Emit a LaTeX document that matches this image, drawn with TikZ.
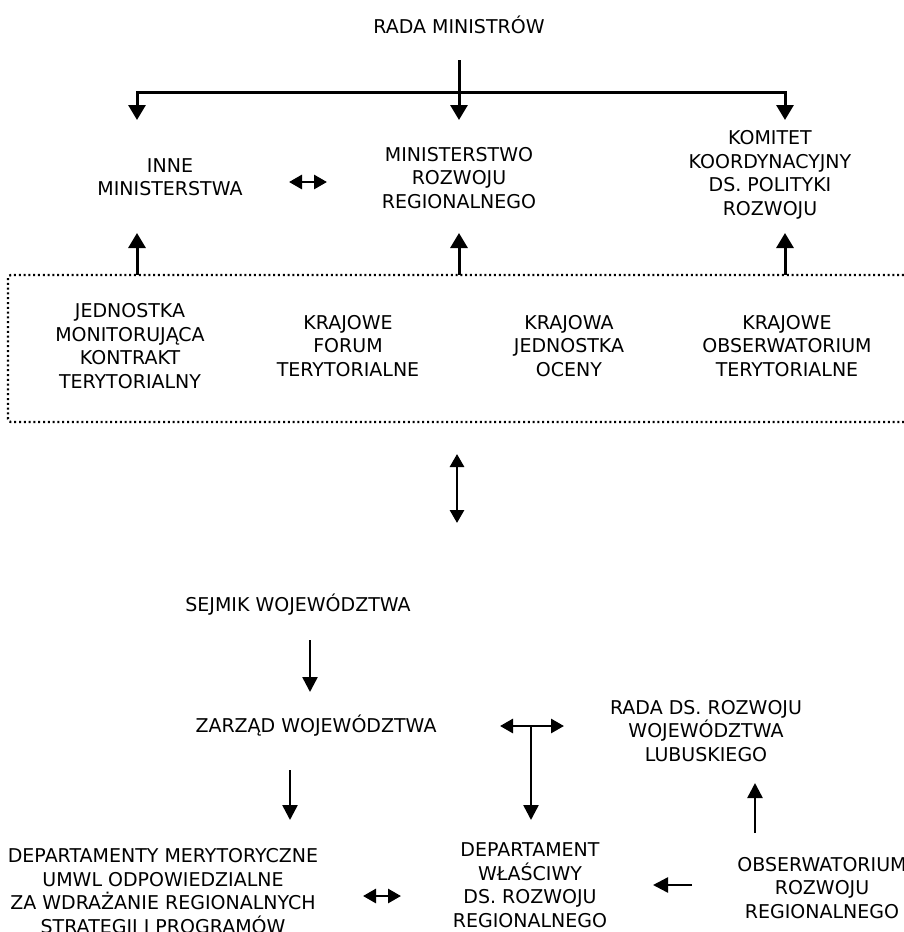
\documentclass[tikz,border=0pt]{standalone}
\usepackage{fontspec}
\setmainfont{DejaVu Sans}
\usetikzlibrary{arrows.meta}
\begin{document}
\begin{tikzpicture}[x=1pt,y=-1pt,
  lbl/.style={align=center,inner sep=0pt,font=\fontsize{19}{23.5}\selectfont},
  arr/.style={line width=3pt,-{Triangle[width=17pt,length=15pt]}},
  sarr/.style={line width=2.5pt,-{Triangle[width=15pt,length=15pt]}},
  darr/.style={line width=2.8pt,{Triangle[width=14pt,length=13pt]}-{Triangle[width=14pt,length=13pt]}},
  dotbox/.style={line width=2.3pt,dash pattern=on 2pt off 2.8pt,rounded corners=3pt}]
\useasboundingbox (0,0) rectangle (903,932);

% nodes
\node[lbl] (rm) at (459,25) {RADA MINISTRÓW};
\node[lbl] (inne) at (170,177) {INNE\\MINISTERSTWA};
\node[lbl] (mrr) at (459,178) {MINISTERSTWO\\ROZWOJU\\REGIONALNEGO};
\node[lbl] (kom) at (770,175) {KOMITET\\KOORDYNACYJNY\\DS. POLITYKI\\ROZWOJU};

\draw[dotbox] (8,275) rectangle (915,422);
\node[lbl] (jm) at (130,346) {JEDNOSTKA\\MONITORUJĄCA\\KONTRAKT\\TERYTORIALNY};
\node[lbl] (kft) at (348,346) {KRAJOWE\\FORUM\\TERYTORIALNE};
\node[lbl] (kjo) at (569,346) {KRAJOWA\\JEDNOSTKA\\OCENY};
\node[lbl] (kot) at (787,346) {KRAJOWE\\OBSERWATORIUM\\TERYTORIALNE};

\node[lbl] (sejmik) at (298,605) {SEJMIK WOJEWÓDZTWA};
\node[lbl] (zarzad) at (316,726) {ZARZĄD WOJEWÓDZTWA};
\node[lbl] (rada) at (706,731) {RADA DS. ROZWOJU\\WOJEWÓDZTWA\\LUBUSKIEGO};
\node[lbl] (depm) at (163,891) {DEPARTAMENTY MERYTORYCZNE\\UMWL ODPOWIEDZIALNE\\ZA WDRAŻANIE REGIONALNYCH\\STRATEGII I PROGRAMÓW};
\node[lbl] (depw) at (530,885) {DEPARTAMENT\\WŁAŚCIWY\\DS. ROZWOJU\\REGIONALNEGO};
\node[lbl] (obs) at (822,888) {OBSERWATORIUM\\ROZWOJU\\REGIONALNEGO};

% coordinates for connector ends
\coordinate (rmS) at (459,60);
\coordinate (junc) at (459,92);
\coordinate (inneN) at (137,120);
\coordinate (mrrN) at (459,120);
\coordinate (komN) at (785,120);
\coordinate (boxA) at (137,275);
\coordinate (boxB) at (459,275);
\coordinate (boxC) at (785,275);
\coordinate (inneS) at (137,233);
\coordinate (mrrS) at (459,233);
\coordinate (komS) at (785,233);

% top connectors
\draw[arr] (rmS) -- (mrrN);
\draw[arr] (junc) -| (inneN);
\draw[arr] (junc) -| (komN);
\draw[darr] (289,182) -- (327,182);

\draw[arr] (boxA) -- (inneS);
\draw[arr] (boxB) -- (mrrS);
\draw[arr] (boxC) -- (komS);

% link between levels
\draw[darr] (457,454) -- (457,523);

% regional level
\draw[sarr] (310,640) -- (310,692);
\draw[darr] (500,726) -- (564,726);
\draw[sarr] (531,726) -- (531,820);
\draw[sarr] (290,770) -- (290,820);
\draw[sarr] (755,833) -- (755,783);
\draw[sarr] (692,885) -- (653,885);
\draw[darr] (363,896) -- (401,896);
\end{tikzpicture}
\end{document}
